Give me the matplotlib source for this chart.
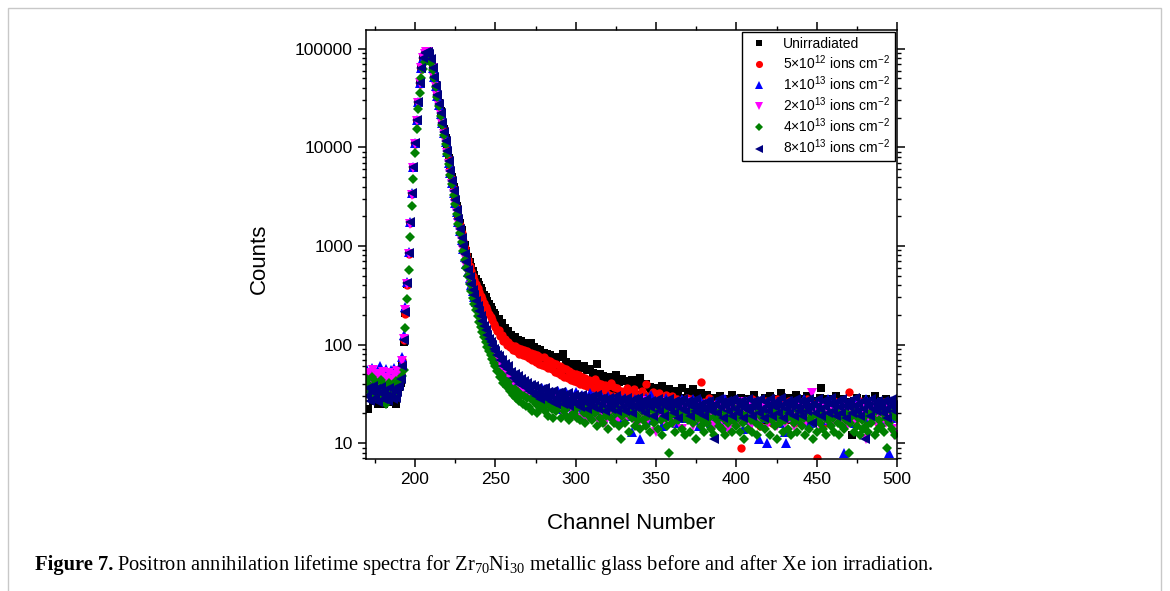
import matplotlib
matplotlib.use("Agg")
import matplotlib.pyplot as plt
import numpy as np
from matplotlib.patches import Rectangle
from matplotlib.ticker import FuncFormatter, LogLocator, MultipleLocator, NullFormatter

plt.rcParams["font.family"] = ["Liberation Sans", "DejaVu Sans"]
plt.rcParams["mathtext.default"] = "regular"

# channel numbers 170..500, one count value per channel
channels = np.arange(170, 501)

unirradiated = [
    38, 22, 35, 30, 27, 33, 36, 25, 31, 29,
    34, 25, 28, 32, 26, 30, 35, 29, 25, 33,
    37, 41, 62, 105, 210, 415, 850, 1720, 3400, 6300,
    11000, 18800, 29000, 44500, 63000, 79500, 88500, 92500, 92000, 87000,
    77000, 64000, 52000, 42500, 35000, 28500, 23500, 19000, 15300, 12300,
    9800, 7800, 6200, 4950, 3950, 3150, 2550, 2080, 1720, 1440,
    1210, 1030, 890, 780, 690, 615, 555, 505, 462, 430,
    405, 378, 352, 318, 300, 276, 258, 240, 226, 211,
    199, 181, 182, 160, 165, 145, 148, 131, 138, 120,
    125, 110, 118, 104, 112, 96, 108, 92, 103, 90,
    98, 84, 104, 80, 95, 78, 90, 74, 88, 71,
    83, 69, 80, 66, 78, 63, 75, 61, 72, 58,
    74, 57, 81, 55, 66, 52, 64, 50, 62, 56,
    49, 63, 47, 58, 45, 60, 44, 55, 42, 57,
    43, 52, 40, 64, 41, 50, 38, 48, 39, 46,
    36, 47, 37, 44, 35, 49, 34, 42, 33, 45,
    32, 43, 31, 41, 33, 44, 30, 39, 31, 42,
    46, 30, 38, 29, 40, 28, 37, 31, 35, 27,
    36, 29, 34, 26, 38, 27, 33, 25, 35, 28,
    31, 24, 34, 26, 30, 23, 36, 25, 29, 24,
    33, 22, 28, 35, 24, 30, 21, 27, 32, 23,
    28, 21, 31, 24, 27, 20, 29, 23, 26, 19,
    30, 22, 25, 28, 19, 26, 23, 31, 20, 24,
    27, 18, 25, 29, 21, 24, 19, 28, 22, 26,
    20, 31, 23, 18, 27, 22, 25, 17, 29, 21,
    24, 30, 19, 26, 22, 28, 18, 25, 32, 21,
    23, 27, 17, 29, 22, 25, 20, 31, 19, 26,
    22, 28, 18, 25, 30, 21, 24, 19, 27, 23,
    20, 26, 29, 36, 18, 25, 22, 28, 19, 24,
    27, 21, 30, 18, 25, 23, 28, 20, 26, 22,
    24, 19, 12, 27, 21, 29, 18, 25, 22, 26,
    20, 28, 23, 19, 26, 22, 30, 17, 25, 21,
    27, 19, 24, 28, 20, 25, 18, 26, 22, 24,
    21,
]

dose_5e12 = [
    40, 36, 44, 38, 42, 35, 39, 45, 37, 41,
    36, 43, 38, 40, 34, 42, 37, 39, 44, 41,
    46, 52, 70, 110, 205, 400, 830, 1700, 3350, 6250,
    10900, 18700, 28800, 44000, 62500, 79000, 88000, 92000, 91500, 86500,
    76500, 63500, 51500, 42000, 34500, 28000, 23000, 18600, 15000, 12000,
    9500, 7600, 6000, 4800, 3820, 3050, 2450, 1990, 1630, 1350,
    1130, 960, 830, 720, 630, 560, 500, 450, 408, 372,
    340, 312, 290, 262, 243, 222, 206, 190, 176, 163,
    152, 138, 140, 122, 126, 109, 114, 100, 106, 94,
    99, 88, 97, 85, 93, 81, 90, 79, 87, 76,
    86, 73, 83, 70, 80, 67, 78, 64, 75, 62,
    74, 60, 70, 58, 68, 56, 65, 53, 63, 51,
    60, 49, 58, 47, 56, 46, 54, 44, 52, 43,
    50, 42, 49, 40, 47, 39, 46, 38, 44, 37,
    43, 36, 45, 35, 41, 34, 40, 33, 39, 32,
    38, 31, 41, 30, 37, 29, 36, 28, 34, 30,
    33, 27, 36, 26, 32, 29, 35, 25, 31, 28,
    24, 34, 27, 31, 40, 23, 30, 26, 33, 22,
    29, 25, 32, 21, 28, 24, 31, 20, 27, 23,
    30, 19, 26, 28, 22, 25, 18, 27, 21, 29,
    20, 24, 28, 19, 25, 22, 27, 17, 42, 21,
    26, 18, 24, 29, 20, 23, 17, 25, 22, 27,
    19, 24, 28, 16, 22, 26, 20, 23, 18, 25,
    21, 27, 17, 9, 24, 19, 26, 22, 18, 25,
    28, 17, 23, 20, 26, 15, 24, 21, 27, 19,
    22, 25, 16, 24, 20, 28, 18, 23, 21, 26,
    17, 24, 19, 27, 21, 23, 16, 25, 20, 22,
    26, 18, 23, 21, 28, 17, 24, 20, 25, 19,
    7, 22, 26, 18, 24, 21, 16, 25, 20, 23,
    19, 27, 21, 17, 24, 22, 26, 18, 23, 20,
    33, 18, 25, 21, 16, 24, 20, 27, 19, 22,
    25, 17, 23, 20, 26, 18, 22, 24, 16, 21,
    23, 19, 26, 17, 22, 20, 25, 18, 21, 24,
    19,
]

dose_1e13 = [
    55, 48, 52, 58, 45, 50, 47, 54, 60, 49,
    53, 46, 57, 51, 44, 55, 49, 58, 52, 47,
    56, 62, 75, 125, 240, 430, 860, 1760, 3450, 6300,
    11000, 18900, 28700, 44800, 63700, 80500, 89500, 93000, 92500, 87500,
    77500, 64000, 51500, 41500, 33500, 27000, 21800, 17500, 14000, 11200,
    8900, 7000, 5500, 4350, 3450, 2750, 2200, 1760, 1420, 1150,
    940, 780, 650, 550, 470, 405, 350, 305, 268, 238,
    212, 190, 168, 152, 136, 124, 112, 104, 96, 90,
    84, 78, 76, 68, 69, 60, 63, 54, 60, 50,
    52, 45, 51, 42, 47, 40, 45, 37, 43, 35,
    40, 34, 38, 31, 39, 29, 37, 32, 27, 36,
    30, 35, 26, 34, 31, 25, 33, 28, 24, 34,
    27, 32, 22, 30, 33, 24, 28, 31, 21, 29,
    33, 23, 28, 19, 31, 25, 29, 21, 27, 32,
    22, 30, 24, 20, 28, 26, 31, 19, 27, 23,
    30, 21, 26, 29, 18, 27, 24, 17, 28, 22,
    25, 29, 19, 27, 23, 13, 20, 28, 24, 18,
    11, 27, 21, 25, 29, 17, 24, 31, 20, 26,
    23, 18, 27, 22, 15, 25, 29, 19, 24, 21,
    27, 20, 24, 16, 26, 22, 28, 18, 23, 25,
    19, 26, 21, 28, 17, 24, 22, 15, 27, 20,
    25, 18, 23, 27, 16, 24, 21, 19, 26, 22,
    17, 25, 20, 28, 22, 15, 24, 21, 26, 19,
    23, 27, 18, 22, 14, 25, 20, 26, 17, 24,
    21, 26, 19, 24, 11, 22, 27, 18, 25, 10,
    26, 19, 23, 28, 17, 24, 21, 16, 25, 22,
    13, 10, 24, 20, 27, 18, 23, 26, 19, 22,
    25, 17, 28, 21, 19, 24, 16, 26, 22, 20,
    24, 19, 27, 22, 17, 25, 20, 28, 18, 23,
    26, 20, 17, 24, 22, 27, 19, 8, 23, 21,
    18, 25, 22, 27, 16, 23, 20, 26, 19, 24,
    21, 28, 17, 23, 20, 25, 18, 22, 26, 19,
    24, 20, 17, 25, 22, 8, 27, 19, 23, 21,
    18,
]

dose_2e13 = [
    42, 52, 38, 47, 55, 40, 45, 50, 36, 48,
    53, 41, 46, 39, 51, 44, 37, 49, 42, 54,
    45, 50, 68, 115, 225, 410, 820, 1650, 3300, 6150,
    10800, 18600, 28500, 44500, 63500, 80000, 89000, 92500, 92000, 87000,
    77000, 63500, 51000, 41000, 33000, 26500, 21500, 17200, 13800, 11000,
    8700, 6850, 5400, 4250, 3380, 2690, 2150, 1720, 1390, 1120,
    920, 760, 630, 530, 455, 390, 338, 295, 260, 230,
    205, 182, 162, 146, 131, 119, 108, 100, 92, 86,
    80, 73, 74, 64, 66, 57, 60, 51, 56, 47,
    50, 43, 47, 40, 45, 37, 42, 35, 40, 33,
    38, 31, 36, 28, 35, 27, 33, 30, 25, 32,
    28, 31, 24, 30, 27, 22, 29, 25, 21, 28,
    24, 29, 20, 27, 25, 18, 26, 23, 28, 19,
    25, 22, 28, 18, 24, 21, 27, 17, 23, 26,
    19, 25, 22, 28, 17, 24, 20, 26, 16, 23,
    27, 19, 24, 21, 16, 25, 22, 18, 26, 20,
    23, 17, 25, 19, 22, 26, 18, 24, 15, 21,
    25, 18, 22, 27, 16, 23, 20, 24, 17, 22,
    13, 24, 19, 22, 26, 17, 21, 25, 18, 23,
    20, 16, 24, 21, 18, 25, 14, 22, 19, 23,
    26, 18, 21, 15, 23, 20, 24, 17, 22, 19,
    16, 23, 20, 25, 18, 22, 15, 21, 24, 19,
    22, 17, 25, 19, 21, 14, 23, 20, 18, 24,
    19, 22, 16, 24, 20, 26, 17, 21, 23, 15,
    22, 18, 25, 20, 16, 23, 19, 24, 14, 21,
    24, 17, 21, 19, 25, 15, 22, 20, 18, 23,
    16, 21, 24, 18, 22, 20, 15, 23, 19, 25,
    18, 22, 20, 16, 24, 19, 21, 32, 17, 22,
    20, 24, 15, 22, 19, 25, 17, 21, 23, 18,
    22, 16, 24, 19, 21, 25, 17, 20, 23, 15,
    21, 24, 18, 20, 16, 23, 19, 25, 17, 22,
    19, 11, 23, 17, 21, 24, 18, 20, 15, 22,
    24, 18, 21, 16, 23, 19, 22, 14, 12, 20,
    17,
]

dose_4e13 = [
    45, 40, 33, 47, 30, 38, 42, 28, 36, 44,
    31, 39, 25, 34, 41, 29, 37, 32, 43, 35,
    40, 46, 48, 55, 146, 291, 570, 1233, 2530, 4750,
    8850, 15200, 24300, 36000, 50000, 63000, 73000, 79000, 81500, 80000,
    72000, 61000, 50000, 40500, 32500, 26000, 21000, 16800, 13400, 10700,
    8500, 6700, 5300, 4200, 3320, 2640, 2100, 1680, 1350, 1090,
    880, 720, 595, 495, 415, 350, 298, 256, 222, 194,
    170, 150, 133, 118, 106, 95, 86, 78, 71, 65,
    60, 54, 53, 47, 49, 41, 44, 37, 42, 34,
    36, 31, 35, 29, 33, 27, 31, 25, 30, 24,
    29, 23, 28, 21, 27, 25, 20, 26, 22, 24,
    27, 21, 25, 19, 24, 22, 18, 25, 21, 23,
    26, 18, 24, 21, 19, 23, 17, 19, 25, 20,
    22, 18, 25, 17, 23, 20, 16, 24, 19, 21,
    17, 23, 20, 15, 22, 18, 24, 16, 21, 19,
    14, 22, 18, 25, 16, 20, 23, 15, 11, 19,
    22, 16, 20, 13, 21, 18, 24, 15, 19, 17,
    14, 21, 17, 23, 15, 19, 13, 22, 18, 16,
    20, 14, 23, 17, 12, 21, 18, 15, 8, 19,
    16, 22, 13, 19, 17, 21, 14, 18, 12, 20,
    17, 13, 21, 16, 19, 11, 18, 22, 15, 17,
    13, 20, 16, 18, 14, 22, 12, 19, 17, 15,
    21, 14, 18, 12, 20, 16, 19, 13, 17, 22,
    15, 18, 13, 20, 16, 11, 19, 14, 22, 17,
    13, 19, 16, 12, 21, 15, 18, 20, 14, 17,
    19, 12, 17, 21, 15, 11, 18, 16, 20, 13,
    17, 21, 14, 19, 12, 18, 16, 22, 13, 17,
    20, 15, 18, 12, 21, 14, 17, 19, 11, 16,
    13, 19, 16, 21, 14, 18, 12, 17, 20, 15,
    18, 13, 21, 16, 12, 19, 15, 14, 17, 20,
    8, 16, 19, 13, 21, 15, 18, 12, 17, 14,
    19, 15, 13, 20, 16, 18, 12, 21, 14, 17,
    15, 20, 13, 18, 9, 16, 21, 14, 19, 12,
    18,
]

dose_8e13 = [
    30, 36, 27, 33, 38, 29, 35, 26, 32, 37,
    28, 34, 30, 27, 36, 31, 28, 35, 29, 33,
    38, 45, 60, 110, 215, 420, 850, 1740, 3430, 6280,
    11000, 18900, 28700, 44800, 63700, 80500, 90000, 93500, 93000, 88000,
    78000, 64500, 52000, 42000, 34000, 27500, 22200, 17800, 14300, 11500,
    9200, 7300, 5800, 4600, 3650, 2900, 2320, 1860, 1500, 1210,
    990, 820, 680, 570, 485, 415, 360, 315, 278, 246,
    218, 195, 172, 155, 139, 126, 115, 106, 98, 91,
    85, 79, 77, 69, 70, 61, 64, 56, 60, 51,
    53, 46, 50, 43, 48, 40, 45, 38, 43, 36,
    41, 34, 39, 32, 38, 30, 36, 33, 28, 35,
    31, 36, 28, 33, 30, 26, 34, 29, 25, 32,
    28, 33, 25, 30, 27, 32, 24, 29, 26, 31,
    25, 30, 27, 23, 31, 26, 29, 22, 28, 25,
    30, 23, 27, 31, 22, 28, 25, 29, 21, 27,
    24, 29, 22, 27, 25, 30, 21, 26, 28, 23,
    27, 21, 29, 24, 26, 20, 28, 23, 25, 29,
    22, 26, 24, 20, 28, 25, 23, 27, 19, 26,
    24, 28, 21, 25, 27, 19, 26, 23, 28, 22,
    25, 20, 27, 24, 18, 26, 22, 28, 21, 25,
    27, 19, 24, 26, 21, 28, 23, 20, 25, 22,
    19, 26, 23, 27, 21, 24, 11, 25, 20, 28,
    23, 26, 18, 24, 27, 21, 25, 19, 28, 22,
    26, 20, 24, 27, 18, 25, 22, 28, 21, 24,
    19, 27, 23, 25, 20, 28, 22, 18, 26, 24,
    21, 28, 19, 25, 23, 27, 20, 24, 29, 18,
    25, 22, 27, 20, 24, 26, 19, 28, 23, 21,
    27, 19, 24, 26, 21, 28, 23, 16, 25, 20,
    24, 28, 22, 19, 27, 23, 26, 20, 25, 29,
    21, 25, 19, 27, 23, 20, 28, 24, 18, 26,
    23, 27, 20, 24, 29, 21, 25, 19, 27, 22,
    11, 26, 24, 19, 28, 22, 25, 21, 27, 23,
    25, 20, 27, 22, 18, 26, 24, 28, 21, 25,
    23,
]

series = [unirradiated, dose_5e12, dose_1e13, dose_2e13, dose_4e13, dose_8e13]
labels = [
    "Unirradiated",
    "5×10$^{12}$ ions cm$^{-2}$",
    "1×10$^{13}$ ions cm$^{-2}$",
    "2×10$^{13}$ ions cm$^{-2}$",
    "4×10$^{13}$ ions cm$^{-2}$",
    "8×10$^{13}$ ions cm$^{-2}$",
]
colors = ["#000000", "#ff0000", "#0000ff", "#ff00ff", "#008000", "#000080"]
markers = ["s", "o", "^", "v", "D", "<"]
sizes = [5.4, 6.0, 6.6, 6.6, 5.2, 6.6]

fig = plt.figure(figsize=(11.7, 5.91), dpi=100)

# thin grey frame around the whole figure panel
fig.patches.append(Rectangle((8 / 1170, -0.05), 1153 / 1170, 1.05 - 8 / 591,
                             transform=fig.transFigure, fill=False,
                             edgecolor="#c8c8c8", linewidth=1))

ax = fig.add_axes([366 / 1170, 1 - 459 / 591, 531 / 1170, 429 / 591])

for y, lab, c, m, s in zip(series, labels, colors, markers, sizes):
    ax.plot(channels, y, ls="none", marker=m, ms=s, color=c, mew=0, label=lab)

ax.set_yscale("log")
ax.set_xlim(169.5, 500)
ax.set_ylim(6.9, 1.55e5)

ax.xaxis.set_major_locator(MultipleLocator(50))
ax.xaxis.set_minor_locator(MultipleLocator(25))
ax.yaxis.set_major_locator(LogLocator(base=10, numticks=10))
ax.yaxis.set_minor_locator(LogLocator(base=10, subs=np.arange(2, 10), numticks=20))
ax.yaxis.set_minor_formatter(NullFormatter())
ax.yaxis.set_major_formatter(FuncFormatter(lambda v, p: f"{v:.0f}"))

for sp in ax.spines.values():
    sp.set_linewidth(1.1)
ax.tick_params(which="major", direction="out", length=5.5, width=1.1,
               labelsize=12.5, top=True, right=True, pad=4)
ax.tick_params(which="minor", direction="out", length=3, width=1.0,
               top=True, right=True)

ax.set_xlabel("Channel Number", fontsize=16)
ax.set_ylabel("Counts", fontsize=16)
ax.xaxis.set_label_coords(0.5, (459 - 513) / 429)
ax.yaxis.set_label_coords((270 - 366) / 531, (459 - 259) / 429)

leg = ax.legend(loc="upper right", fontsize=10, frameon=True, fancybox=False,
                edgecolor="black", framealpha=1, borderaxespad=0.15,
                handlelength=1.7, handletextpad=0.9, labelspacing=0.18,
                borderpad=0.35, markerscale=0.85)
leg.get_frame().set_linewidth(1.0)

# caption below the chart
cap_y = 1 - 565 / 591
bold = fig.text(35 / 1170, cap_y, "Figure 7.", family="Liberation Serif",
                fontweight="bold", fontsize=14.8, va="center")
renderer = fig.canvas.get_renderer()
bb = bold.get_window_extent(renderer=renderer)
fig.text((bb.x1 + 4) / 1170, cap_y,
         "Positron annihilation lifetime spectra for Zr$_{70}$Ni$_{30}$ "
         "metallic glass before and after Xe ion irradiation.",
         family="Liberation Serif", fontsize=14.8, va="center")

fig.savefig("out.png", dpi=100)
